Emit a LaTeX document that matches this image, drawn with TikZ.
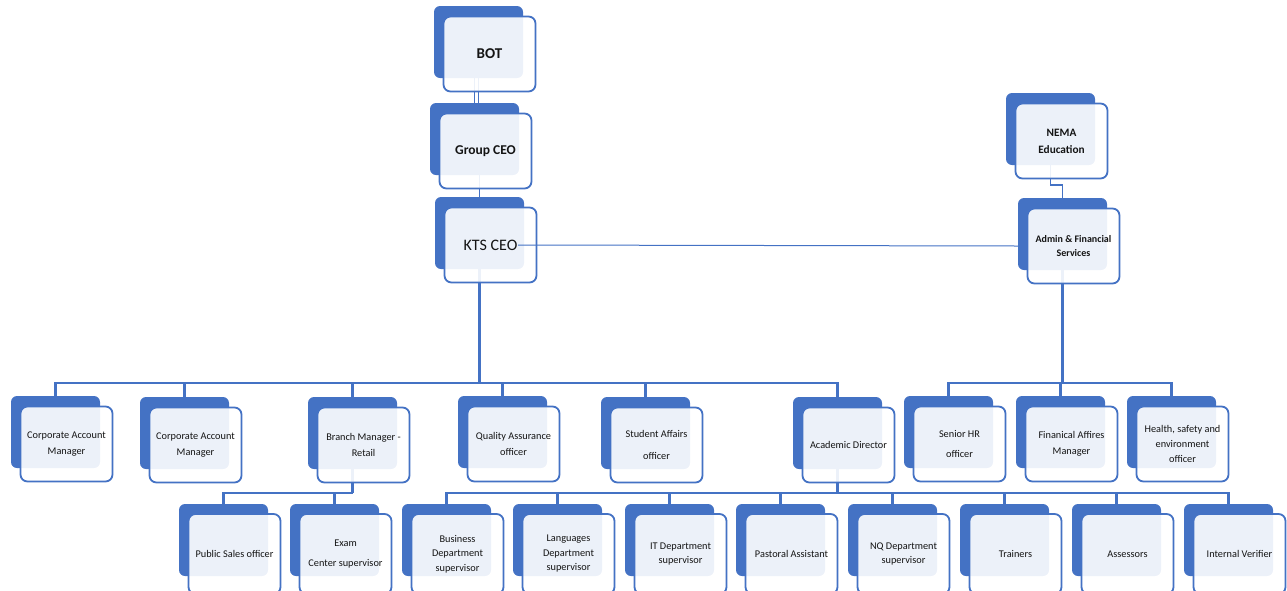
\documentclass[tikz,border=0pt]{standalone}
\usepackage{fontspec}
\setmainfont{Carlito}
\usetikzlibrary{backgrounds}
\definecolor{ob}{HTML}{4472C4}
\definecolor{tx}{HTML}{141414}
\newcommand{\orgpair}[5]{%
  \node[backbox] (b#1) at ({#2+44.5},{#3+36}) {};
  \node[frontbox,#4] (#1) at ({#2+55.5},{#3+48}) {#5};}
\begin{document}
\begin{tikzpicture}[x=1pt,y=-1pt,
  backbox/.style={draw=none, fill=ob, rounded corners=6pt, minimum width=89pt, minimum height=72pt, inner sep=0pt},
  frontbox/.style={draw=ob, line width=1.8pt, fill=white, fill opacity=0.9, text opacity=1, rounded corners=7pt,
    minimum width=92pt, minimum height=75pt, align=center, inner sep=1pt, text=tx, font=\fontsize{10.3}{16}\selectfont},
  lowrow/.style={minimum height=80pt, yshift=-2pt, font=\fontsize{10.3}{14.5}\selectfont},
  conn/.style={draw=ob, line width=2.4pt},
  midconn/.style={draw=ob, line width=1.6pt},
  thinconn/.style={draw=ob, line width=1pt}]
\useasboundingbox (0,0) rectangle (1287,590);
% top
\orgpair{bot}{434}{6}{font=\fontsize{15}{18}\bfseries}{BOT}
\orgpair{grp}{430}{103}{font=\fontsize{13.5}{16}\bfseries}{Group CEO}
\orgpair{kts}{435}{197}{}{}
\node[font=\fontsize{16}{18}\selectfont, inner sep=0.5pt, text=tx] (ktslabel) at (kts.center) {KTS CEO};
\orgpair{nema}{1006}{93}{font=\fontsize{11.3}{17}\bfseries}{NEMA\\Education}
\orgpair{adm}{1018}{198}{font=\fontsize{10}{14}\bfseries}{Admin \& Financial\\Services}
% middle row
\orgpair{cam1}{11}{396}{}{Corporate Account\\Manager}
\orgpair{cam2}{140}{397}{}{Corporate Account\\Manager}
\orgpair{brm}{308}{397}{}{Branch Manager -\\Retail}
\orgpair{qa}{458}{396}{}{Quality Assurance\\officer}
\orgpair{sa}{601}{397}{}{Student Affairs\\[6pt]officer}
\orgpair{ad}{793}{397}{}{Academic Director}
\orgpair{shr}{904}{396}{}{Senior HR\\[4pt]officer}
\orgpair{fam}{1016}{396}{}{Finanical Affires\\Manager}
\orgpair{hse}{1127}{396}{font=\fontsize{10.3}{15}\selectfont}{Health, safety and\\environment\\officer}
% bottom row
\orgpair{ps}{179}{504}{lowrow}{Public Sales officer}
\orgpair{ex}{290}{504}{lowrow}{Exam\\[6pt]Center supervisor}
\orgpair{bus}{402}{504}{lowrow}{Business\\Department\\supervisor}
\orgpair{lang}{513}{504}{lowrow}{Languages\\Department\\supervisor}
\orgpair{it}{625}{504}{lowrow}{IT Department\\supervisor}
\orgpair{pas}{736}{504}{lowrow}{Pastoral Assistant}
\orgpair{nq}{848}{504}{lowrow}{NQ Department\\supervisor}
\orgpair{tr}{960}{504}{lowrow}{Trainers}
\orgpair{as}{1072}{504}{lowrow}{Assessors}
\orgpair{iv}{1184}{504}{lowrow}{Internal Verifier}
% connectors
\begin{scope}[on background layer]
  \draw[thinconn] (bbot.south) -- (bbot.south |- bgrp.north);
  \draw[thinconn] (bgrp.north) -- (bgrp.north |- bbot.south);
  \draw[thinconn] (bgrp.south -| bkts.north) -- (bkts.north);
  \coordinate (busL) at (bkts.south |- 0,383);
  \draw[conn] (bkts.south) -- (busL);
  \foreach \n in {cam1,cam2,brm,qa,sa,ad} \draw[conn] (busL) -| (b\n.north);
  \coordinate (busB) at (bbrm.south |- 0,493);
  \draw[conn] (bbrm.south) -- (busB);
  \foreach \n in {ps,ex} \draw[conn] (busB) -| (b\n.north);
  \coordinate (busC) at (bad.south |- 0,493);
  \draw[conn] (bad.south) -- (busC);
  \foreach \n in {bus,lang,it,pas,nq,tr,as,iv} \draw[conn] (busC) -| (b\n.north);
  \draw[midconn] (bnema.south) -- ++(0,20) -| (badm.north);
  \coordinate (busR) at (badm.south |- 0,383);
  \draw[conn] (badm.south) -- (busR);
  \foreach \n in {shr,fam,hse} \draw[conn] (busR) -| (b\n.north);
\end{scope}
\draw[thinconn] (ktslabel.east) -- (badm.west |- adm.center);
\end{tikzpicture}
\end{document}
